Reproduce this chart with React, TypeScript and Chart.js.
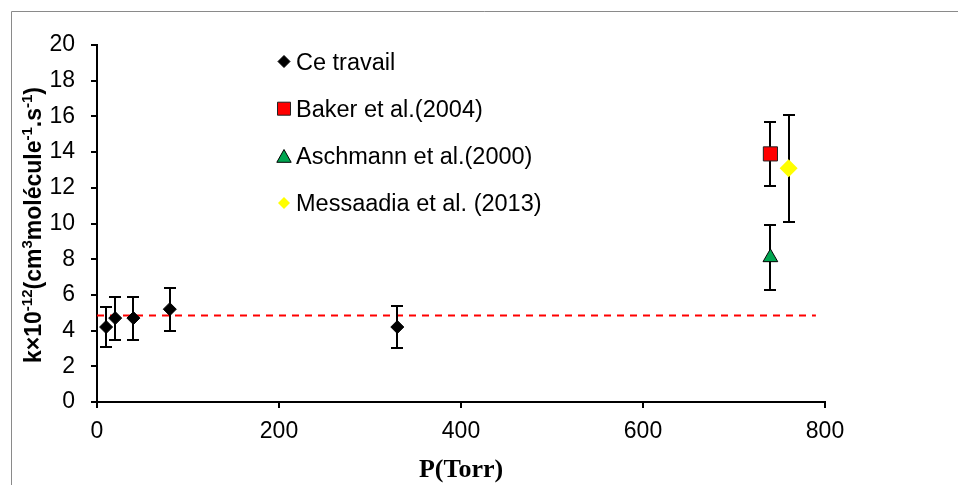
import React, { useEffect, useRef } from "react";
import { Chart, registerables } from "chart.js";

Chart.register(...registerables);

// ---- Data ----
const seriesLabels = [
  "Ce travail",
  "Baker et al.(2004)",
  "Aschmann et al.(2000)",
  "Messaadia et al. (2013)",
];
const ceP = [10, 20, 40, 80, 330];
const ceK = [4.2, 4.7, 4.7, 5.2, 4.2];
const ceErr = [1.1, 1.2, 1.2, 1.2, 1.2];
const bakerP = [740];
const bakerK = [13.9];
const bakerErr = [1.8];
const aschP = [740];
const aschK = [8.1];
const aschErr = [1.8];
const messP = [760];
const messK = [13.1];
const messErr = [3.0];
const meanP = [0, 790];
const meanK = [4.85, 4.85];
const xMin = 0, xMax = 800, xStep = 200;
const yMin = 0, yMax = 20, yStep = 2;
const xTitle = "P(Torr)";
const yTitleParts = [
  { t: "k×10", sup: false },
  { t: "-12", sup: true },
  { t: "(cm", sup: false },
  { t: "3", sup: true },
  { t: "molécule", sup: false },
  { t: "-1", sup: true },
  { t: ".s", sup: false },
  { t: "-1", sup: true },
  { t: ")", sup: false },
];

const SANS = "'Liberation Sans', Arial, sans-serif";
const SERIF = "'Liberation Serif', 'Times New Roman', serif";

const toPts = (xs: number[], ys: number[]) => xs.map((x, i) => ({ x, y: ys[i] }));
const errorSets = [ceErr, bakerErr, aschErr, messErr];

type Marker = { shape: string; fill: string; stroke: string; lw: number; r: number };
const legendMarkers: Marker[] = [
  { shape: "diamond", fill: "#000000", stroke: "#000000", lw: 1, r: 6 },
  { shape: "square", fill: "#FF0000", stroke: "#222222", lw: 1, r: 6.5 },
  { shape: "triangle", fill: "#00A550", stroke: "#000000", lw: 1, r: 8 },
  { shape: "diamond", fill: "#FFFF00", stroke: "#FFFF00", lw: 0, r: 6 },
];

function drawMarker(ctx: CanvasRenderingContext2D, m: Marker, cx: number, cy: number) {
  ctx.beginPath();
  const r = m.r;
  if (m.shape === "diamond") {
    ctx.moveTo(cx, cy - r);
    ctx.lineTo(cx + r, cy);
    ctx.lineTo(cx, cy + r);
    ctx.lineTo(cx - r, cy);
  } else if (m.shape === "square") {
    ctx.rect(cx - r, cy - r, 2 * r, 2 * r);
  } else {
    const h = r * 1.6;
    ctx.moveTo(cx, cy - h / 2);
    ctx.lineTo(cx + r * 0.9, cy + h / 2);
    ctx.lineTo(cx - r * 0.9, cy + h / 2);
  }
  ctx.closePath();
  ctx.fillStyle = m.fill;
  ctx.fill();
  if (m.lw > 0) {
    ctx.lineWidth = m.lw;
    ctx.strokeStyle = m.stroke;
    ctx.stroke();
  }
}

const backgroundPlugin = {
  id: "bgBorder",
  beforeDraw(chart: any) {
    const ctx = chart.ctx as CanvasRenderingContext2D;
    ctx.save();
    ctx.fillStyle = "#ffffff";
    ctx.fillRect(0, 0, chart.width, chart.height);
    ctx.strokeStyle = "#8a8a8a";
    ctx.lineWidth = 1;
    ctx.beginPath();
    ctx.moveTo(11.5, chart.height);
    ctx.lineTo(11.5, 11.5);
    ctx.lineTo(chart.width, 11.5);
    ctx.stroke();
    ctx.restore();
  },
};

const errorBarPlugin = {
  id: "errorBars",
  afterDatasetDraw(chart: any, args: any) {
    if (args.index !== 4) return;
    const ctx = chart.ctx as CanvasRenderingContext2D;
    const xs = chart.scales.x;
    const ys = chart.scales.y;
    ctx.save();
    ctx.strokeStyle = "#000000";
    ctx.lineWidth = 2;
    errorSets.forEach((errs, di) => {
      const data = chart.data.datasets[di].data as { x: number; y: number }[];
      data.forEach((pt, j) => {
        const px = Math.round(xs.getPixelForValue(pt.x));
        const top = Math.round(ys.getPixelForValue(pt.y + errs[j]));
        const bot = Math.round(ys.getPixelForValue(pt.y - errs[j]));
        ctx.beginPath();
        ctx.moveTo(px, top);
        ctx.lineTo(px, bot);
        ctx.moveTo(px - 6, top);
        ctx.lineTo(px + 6, top);
        ctx.moveTo(px - 6, bot);
        ctx.lineTo(px + 6, bot);
        ctx.stroke();
      });
    });
    ctx.restore();
  },
};

const textPlugin = {
  id: "texts",
  afterDraw(chart: any) {
    const ctx = chart.ctx as CanvasRenderingContext2D;
    ctx.save();
    // Legend inside plot
    ctx.textBaseline = "alphabetic";
    ctx.textAlign = "left";
    seriesLabels.forEach((label, i) => {
      const base = 69.5 + i * 47.2;
      drawMarker(ctx, legendMarkers[i], 284, base - 8);
      ctx.fillStyle = "#000000";
      ctx.font = `23.5px ${SANS}`;
      ctx.fillText(label, 296, base);
    });

    // X title
    ctx.font = `bold 26px ${SERIF}`;
    ctx.textAlign = "center";
    ctx.fillStyle = "#000000";
    ctx.fillText(xTitle, 461, 477);

    // Y title with superscripts (rotated)
    ctx.translate(41, 225);
    ctx.rotate(-Math.PI / 2);
    ctx.textAlign = "left";
    const mainFont = `bold 23px ${SANS}`;
    const supFont = `bold 15px ${SANS}`;
    let total = 0;
    yTitleParts.forEach((p) => {
      ctx.font = p.sup ? supFont : mainFont;
      total += ctx.measureText(p.t).width;
    });
    let x = -total / 2;
    yTitleParts.forEach((p) => {
      ctx.font = p.sup ? supFont : mainFont;
      ctx.fillText(p.t, x, p.sup ? -9 : 0);
      x += ctx.measureText(p.t).width;
    });
    ctx.restore();
  },
};

export default function App() {
  const ref = useRef<HTMLCanvasElement>(null);
  useEffect(() => {
    if (!ref.current) return;
    const chart = new Chart(ref.current, {
      type: "scatter",
      data: {
        datasets: [
          {
            label: seriesLabels[0],
            data: toPts(ceP, ceK),
            pointStyle: "rectRot",
            pointRadius: 6.5,
            backgroundColor: "#000000",
            borderColor: "#000000",
            borderWidth: 1,
            order: 0,
          },
          {
            label: seriesLabels[1],
            data: toPts(bakerP, bakerK),
            pointStyle: "rect",
            pointRadius: 10,
            backgroundColor: "#FF0000",
            borderColor: "#222222",
            borderWidth: 1,
            order: 1,
          },
          {
            label: seriesLabels[2],
            data: toPts(aschP, aschK),
            pointStyle: "triangle",
            pointRadius: 8.5,
            backgroundColor: "#00A550",
            borderColor: "#000000",
            borderWidth: 1,
            order: 2,
          },
          {
            label: seriesLabels[3],
            data: toPts(messP, messK),
            pointStyle: "rectRot",
            pointRadius: 9,
            backgroundColor: "#FFFF00",
            borderColor: "#FFFF00",
            borderWidth: 0,
            order: 3,
          },
          {
            label: "mean",
            data: toPts(meanP, meanK),
            showLine: true,
            pointRadius: 0,
            borderColor: "#FF0000",
            borderWidth: 2,
            borderDash: [7, 6],
            fill: false,
            order: 10,
          } as any,
        ],
      },
      options: {
        animation: false,
        responsive: true,
        maintainAspectRatio: false,
        events: [],
        layout: { padding: { top: 45, right: 133, left: 0, bottom: 0 } },
        plugins: {
          legend: { display: false },
          tooltip: { enabled: false },
        },
        scales: {
          x: {
            type: "linear",
            min: xMin,
            max: xMax,
            ticks: {
              stepSize: xStep,
              color: "#000000",
              font: { family: SANS, size: 23 },
              padding: 10,
              maxRotation: 0,
            },
            grid: {
              display: true,
              drawOnChartArea: false,
              drawTicks: true,
              tickLength: 6,
              color: "#000000",
              lineWidth: 2,
            },
            border: { display: true, color: "#000000", width: 2 },
            afterFit(s: any) {
              s.height = 83;
            },
          },
          y: {
            type: "linear",
            min: yMin,
            max: yMax,
            ticks: {
              stepSize: yStep,
              color: "#000000",
              font: { family: SANS, size: 23 },
              padding: 16,
            },
            grid: {
              display: true,
              drawOnChartArea: false,
              drawTicks: true,
              tickLength: 6,
              color: "#000000",
              lineWidth: 2,
            },
            border: { display: true, color: "#000000", width: 2 },
            afterFit(s: any) {
              s.width = 97;
            },
          },
        },
      } as any,
      plugins: [backgroundPlugin, errorBarPlugin, textPlugin],
    });
    return () => chart.destroy();
  }, []);
  return (
    <div style={{ position: "fixed", left: 0, top: 0, width: 958, height: 485, background: "#ffffff" }}>
      <canvas ref={ref} />
    </div>
  );
}
